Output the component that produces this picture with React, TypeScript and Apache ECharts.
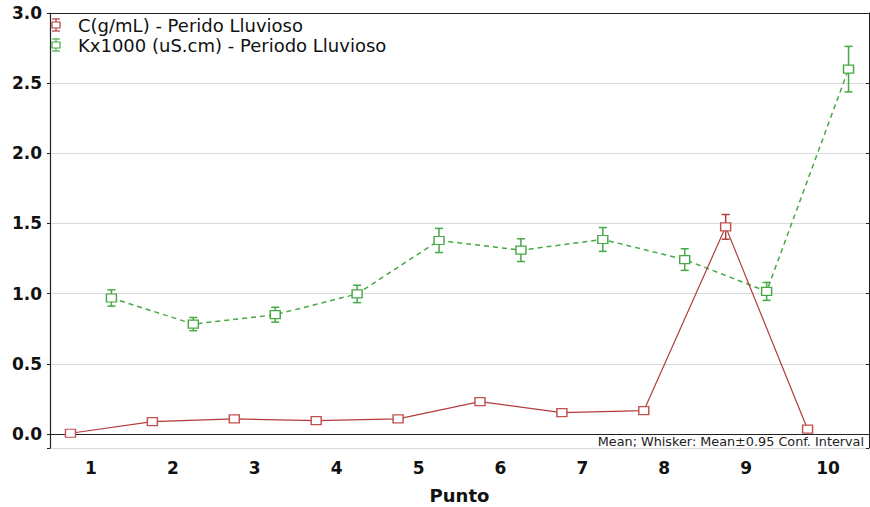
import React, { useEffect, useRef } from "react";
import * as echarts from "echarts";

const categories = ["1", "2", "3", "4", "5", "6", "7", "8", "9", "10"];
const cMean = [0.005, 0.088, 0.107, 0.095, 0.107, 0.23, 0.152, 0.166, 1.476, 0.034];
const cCI = [0.008, 0.01, 0.01, 0.01, 0.01, 0.012, 0.01, 0.01, 0.088, 0.01];
const kMean = [0.969, 0.783, 0.85, 0.998, 1.379, 1.31, 1.386, 1.243, 1.016, 2.6];
const kCI = [0.058, 0.047, 0.053, 0.062, 0.086, 0.081, 0.085, 0.077, 0.064, 0.162];
const seriesNames = ["C(g/mL) - Perido Lluvioso", "Kx1000 (uS.cm) - Periodo Lluvioso"];
const noteText = "Mean; Whisker: Mean±0.95 Conf. Interval";

const RED = "#b23c3c";
const GREEN = "#45a945";
const OFFSET = 0.25;

function errRender(color: string) {
  return (params: any, api: any) => {
    const x = api.value(0);
    const lo = api.value(1);
    const hi = api.value(2);
    const t = api.coord([x, hi]);
    const b = api.coord([x, lo]);
    const hw = 4;
    const st = { stroke: color, lineWidth: 1.5 };
    return {
      type: "group",
      children: [
        { type: "line", shape: { x1: t[0], y1: t[1], x2: b[0], y2: b[1] }, style: st },
        { type: "line", shape: { x1: t[0] - hw, y1: t[1], x2: t[0] + hw, y2: t[1] }, style: st },
        { type: "line", shape: { x1: b[0] - hw, y1: b[1], x2: b[0] + hw, y2: b[1] }, style: st },
      ],
    };
  };
}

function legendIcon(cx: number, cy: number, color: string) {
  const st = { stroke: color, lineWidth: 1.2 };
  return [
    { type: "line", z: 100, shape: { x1: cx, y1: cy - 6, x2: cx, y2: cy + 6 }, style: st },
    { type: "line", z: 100, shape: { x1: cx - 4, y1: cy - 6, x2: cx + 4, y2: cy - 6 }, style: st },
    { type: "line", z: 100, shape: { x1: cx - 4, y1: cy + 6, x2: cx + 4, y2: cy + 6 }, style: st },
    { type: "rect", z: 101, shape: { x: cx - 4, y: cy - 3, width: 8, height: 6 }, style: { fill: "#fff", stroke: color, lineWidth: 1.2 } },
  ];
}

export default function App() {
  const ref = useRef<HTMLDivElement>(null);
  useEffect(() => {
    if (!ref.current) return;
    const chart = echarts.init(ref.current, null, { renderer: "svg" });
    const cData = cMean.map((v, i) => [i + 1 - OFFSET, v]);
    const kData = kMean.map((v, i) => [i + 1 + OFFSET, v]);
    const cErr = cMean.map((v, i) => [i + 1 - OFFSET, v - cCI[i], v + cCI[i]]);
    const kErr = kMean.map((v, i) => [i + 1 + OFFSET, v - kCI[i], v + kCI[i]]);
    const labelFont = { fontFamily: "DejaVu Sans", fontWeight: "bold" as const, fontSize: 17, color: "#111" };

    chart.setOption({
      animation: false,
      backgroundColor: "#fff",
      grid: { left: 50, right: 1, top: 13, bottom: 59, containLabel: false, outerBoundsMode: "none" },
      xAxis: [
        { type: "value", min: 0.5, max: 10.5, show: false, splitLine: { show: false } },
        {
          type: "category",
          data: categories,
          position: "bottom",
          boundaryGap: true,
          axisLine: { lineStyle: { color: "#222", width: 1.2 } },
          axisTick: { alignWithLabel: true, inside: true, length: 5, lineStyle: { color: "#222" } },
          axisLabel: { ...labelFont, margin: 11 },
          name: "Punto",
          nameLocation: "middle",
          nameGap: 38,
          nameTextStyle: { fontFamily: "DejaVu Sans", fontWeight: "bold", fontSize: 18, color: "#111" },
          splitLine: { show: false },
        },
        {
          type: "category",
          data: categories,
          position: "top",
          boundaryGap: true,
          axisLine: { lineStyle: { color: "#222", width: 1 } },
          axisTick: { alignWithLabel: true, inside: true, length: 4, lineStyle: { color: "#222" } },
          axisLabel: { show: false },
          splitLine: { show: false },
        },
      ],
      yAxis: [
        {
          type: "value",
          min: -0.1,
          max: 3.0,
          splitNumber: 6,
          axisLine: { show: true, lineStyle: { color: "#222", width: 1.2 } },
          axisTick: { show: true, inside: false, length: 3, lineStyle: { color: "#222" } },
          axisLabel: {
            ...labelFont,
            margin: 8,
            formatter: (v: number) => (v < -0.01 ? "" : v.toFixed(1)),
          },
          splitLine: { show: true, lineStyle: { color: "#d9d9d9", width: 1 } },
        },
        {
          type: "value",
          min: -0.1,
          max: 3.0,
          splitNumber: 6,
          position: "right",
          axisLine: { show: true, lineStyle: { color: "#222", width: 1 } },
          axisTick: { show: true, inside: true, length: 3, lineStyle: { color: "#222" } },
          axisLabel: { show: false },
          splitLine: { show: false },
        },
      ],
      series: [
        {
          type: "custom",
          name: seriesNames[1] + " CI",
          xAxisIndex: 0,
          yAxisIndex: 0,
          z: 3,
          renderItem: errRender(GREEN),
          data: kErr,
        },
        {
          type: "custom",
          name: seriesNames[0] + " CI",
          xAxisIndex: 0,
          yAxisIndex: 0,
          z: 3,
          renderItem: errRender(RED),
          data: cErr,
        },
        {
          type: "line",
          name: seriesNames[1],
          xAxisIndex: 0,
          yAxisIndex: 0,
          z: 4,
          data: kData,
          symbol: "rect",
          symbolSize: [10, 8],
          showAllSymbol: true,
          lineStyle: { color: GREEN, width: 1.5, type: [5, 4] },
          itemStyle: { color: "#fff", borderColor: GREEN, borderWidth: 1.3 },
        },
        {
          type: "line",
          name: seriesNames[0],
          xAxisIndex: 0,
          yAxisIndex: 0,
          z: 5,
          data: cData,
          symbol: "rect",
          symbolSize: [10, 8],
          showAllSymbol: true,
          lineStyle: { color: RED, width: 1.2 },
          itemStyle: { color: "#fff", borderColor: "#c25050", borderWidth: 1.3 },
        },
      ],
      graphic: [
        ...legendIcon(56, 25, RED),
        ...legendIcon(56, 45, GREEN),
        {
          type: "text",
          z: 100,
          x: 78,
          y: 25,
          style: { text: seriesNames[0], fill: "#111", font: "18px 'DejaVu Sans'", verticalAlign: "middle", align: "left" },
        },
        {
          type: "text",
          z: 100,
          x: 78,
          y: 45,
          style: { text: seriesNames[1], fill: "#111", font: "18px 'DejaVu Sans'", verticalAlign: "middle", align: "left" },
        },
        {
          type: "text",
          z: 100,
          x: 866,
          y: 447,
          style: {
            text: noteText,
            fill: "#222",
            font: "12.8px 'DejaVu Sans'",
            align: "right",
            verticalAlign: "bottom",
            lineHeight: 12,
            backgroundColor: "#fff",
            padding: [0, 2, 0, 5],
          },
        },
      ],
    });
    return () => chart.dispose();
  }, []);
  return <div ref={ref} style={{ position: "absolute", left: 0, top: 0, width: 870, height: 507 }} />;
}
